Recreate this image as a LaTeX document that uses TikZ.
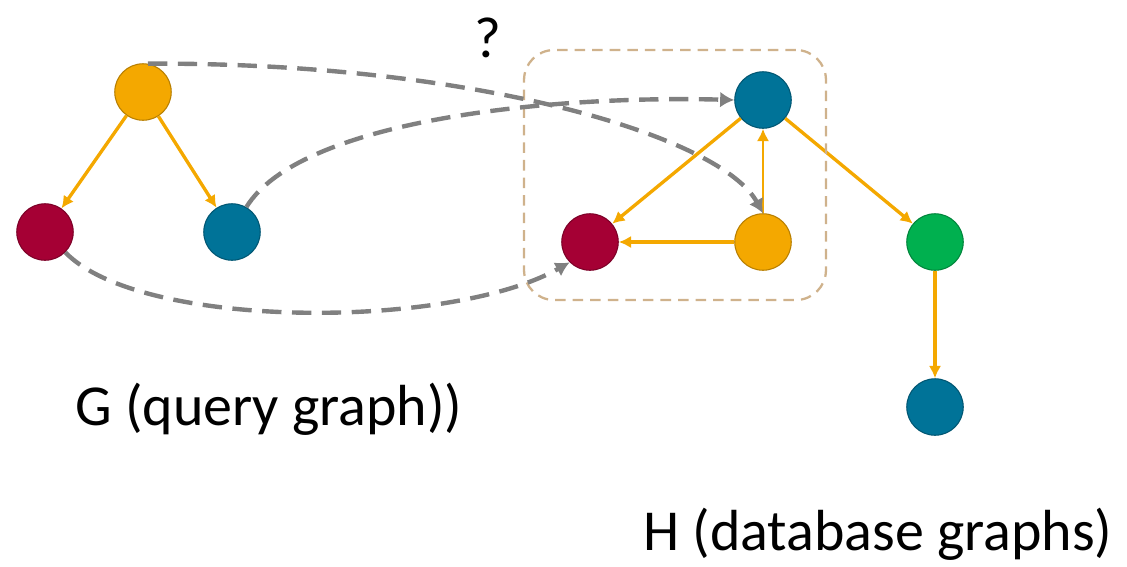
\documentclass[tikz,border=0pt]{standalone}
\usepackage{fontspec}
\setmainfont{Carlito}
\usetikzlibrary{arrows.meta,positioning}
\definecolor{gorange}{HTML}{F4A800}
\definecolor{gred}{HTML}{A50034}
\definecolor{gblue}{HTML}{007398}
\definecolor{ggreen}{HTML}{00B04F}
\definecolor{boxtan}{HTML}{CFB28C}

\begin{document}
\begin{tikzpicture}[x=0.02cm,y=-0.02cm,
          v/.style={circle,draw=#1!75!black,fill=#1,line width=0.6pt,minimum size=1.13cm,inner sep=0pt},
          e/.style={draw=gorange,line width=1.9pt,-{Latex[length=7pt,width=7pt]}},
          m/.style={draw=gray,line width=2.5pt,dash pattern=on 11pt off 6pt,-{Latex[length=8pt,width=9pt]}},
          lbl/.style={font=\fontsize{33}{38}\selectfont,inner sep=0pt}]
        \useasboundingbox (0,0) rectangle (1127,566);
        % query graph
        \node[v=gorange] (go) at (143,92) {};
        \node[v=gred] (gr) at (45,232) {};
        \node[v=gblue] (gb) at (232,232) {};
        \draw[e] (go)--(gr);
        \draw[e] (go)--(gb);
        % database graph
        \node[v=gblue] (hb) at (763,100) {};
        \node[v=gred] (hr) at (590,242) {};
        \node[v=gorange] (ho) at (763,242) {};
        \node[v=ggreen] (hg) at (935,242) {};
        \node[v=gblue] (hl) at (935,407) {};
        \draw[e] (hb)--(hr);
        \draw[e,line width=1.3pt] (ho)--(hb);
        \draw[e] (ho)--(hr);
        \draw[e] (hb)--(hg);
        \draw[e] (hg)--(hl);
        % matched part
        \node[draw=boxtan,line width=1.3pt,dash pattern=on 6pt off 4pt,rounded corners=0.6cm,
              minimum width=6.04cm,minimum height=5cm] (box) at (675,175) {};
        % mappings
        \draw[m] (go.80) .. controls (470,62) and (720,135) .. (ho.north);
        \draw[m] (gb.60) .. controls (300,120) and (550,95) .. (hb.west);
        \draw[m] (gr.-45) .. controls (140,330) and (450,330) .. (hr.-135);
        % labels
        \node[lbl] (q) at (488,38) {?};
        \node[lbl,anchor=base west] (gl) at (75,425) {G (query graph))};
        \node[lbl,anchor=base west] (hlbl) at (643,550) {H (database graphs)};
      \end{tikzpicture}
\end{document}
